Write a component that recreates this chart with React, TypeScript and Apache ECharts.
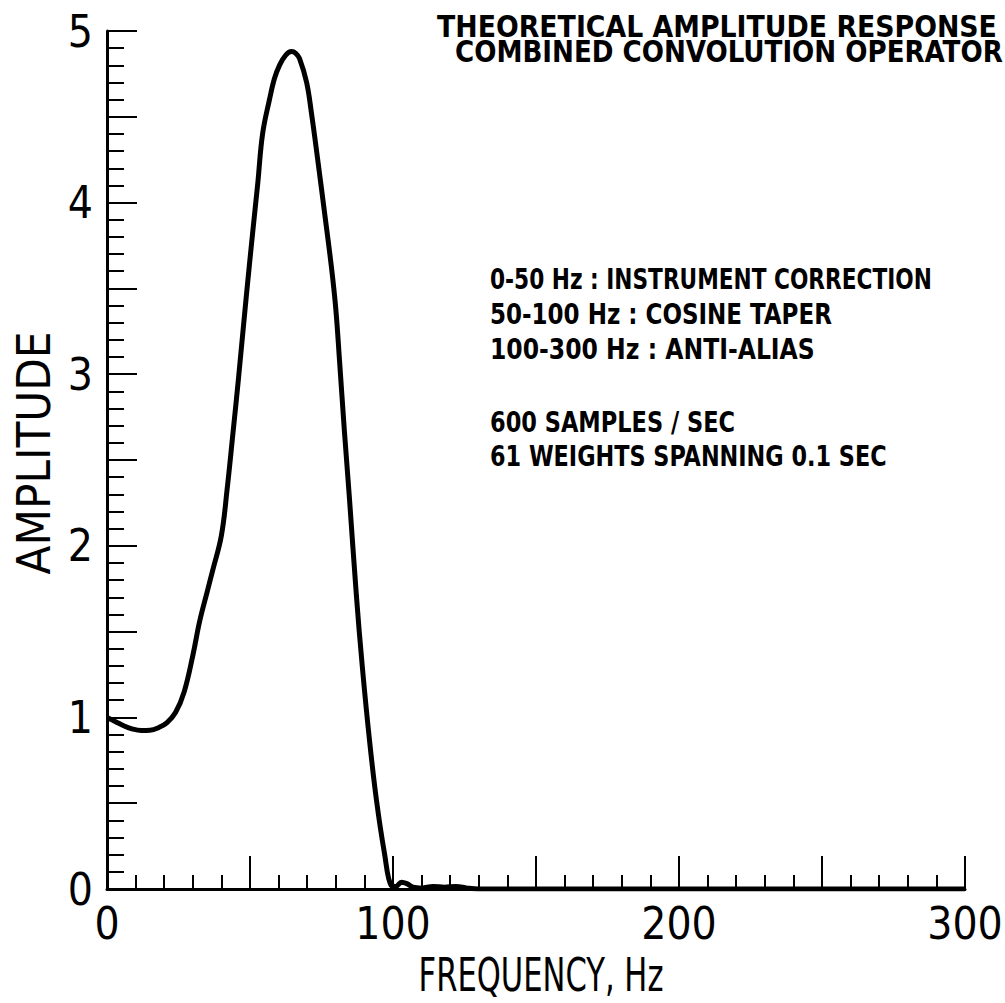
import React, { useEffect, useRef } from "react";
import * as echarts from "echarts";

const FONT = '"Liberation Sans Narrow", "DejaVu Sans Condensed", "Roboto Condensed", sans-serif';

// Frequency (Hz) and amplitude
const freq = [0, 3, 6, 9, 12, 15, 18, 21, 24, 27, 30, 32.4, 35, 37, 40, 42, 44, 46, 48.8, 50.9, 52.7, 54.4, 56.8, 58.5, 60.3, 62.5, 64.5, 66, 67.3, 69.8, 71.5, 73.6, 76, 78.5, 80, 81.3, 83, 84.8, 87.2, 89.3, 91.7, 94.2, 97, 99.4, 101, 103, 105, 107, 110, 114, 118, 122, 126, 130, 200, 300];
const amp = [1.0, 0.975, 0.95, 0.932, 0.924, 0.925, 0.94, 0.97, 1.03, 1.15, 1.36, 1.56, 1.73, 1.86, 2.06, 2.33, 2.65, 2.98, 3.47, 3.82, 4.11, 4.4, 4.6, 4.72, 4.8, 4.86, 4.88, 4.87, 4.84, 4.7, 4.52, 4.26, 3.95, 3.62, 3.38, 3.08, 2.67, 2.27, 1.71, 1.29, 0.88, 0.52, 0.21, 0.02, 0.015, 0.04, 0.03, 0.01, 0.005, 0.015, 0.01, 0.015, 0.005, 0, 0, 0];

const titleLines = ["THEORETICAL AMPLITUDE RESPONSE", "COMBINED CONVOLUTION OPERATOR"];
const noteLines = [
  "0-50 Hz : INSTRUMENT CORRECTION",
  "50-100 Hz : COSINE TAPER",
  "100-300 Hz : ANTI-ALIAS",
  "600 SAMPLES / SEC",
  "61 WEIGHTS SPANNING 0.1 SEC",
];
const xName = "FREQUENCY, Hz";
const yName = "AMPLITUDE";

function measure(text: string, size: number, weight = "normal") {
  const c = document.createElement("canvas").getContext("2d")!;
  c.font = `${weight} ${size}px ${FONT}`;
  return c.measureText(text).width;
}

export default function App() {
  const ref = useRef<HTMLDivElement>(null);
  useEffect(() => {
    if (!ref.current) return;
    const chart = echarts.init(ref.current, null, { renderer: "svg" });

    const textEl = (
      text: string,
      x: number,
      y: number,
      size: number,
      targetW: number,
      weight = "normal",
      align = "left",
      rotation = 0
    ) => {
      const w = measure(text, size, weight);
      return {
        type: "text",
        x,
        y,
        rotation,
        scaleX: targetW / w,
        style: { text, fontSize: size, fontFamily: FONT, fontWeight: weight, fill: "#000", textAlign: align, textVerticalAlign: "middle" },
      };
    };

    const graphics: any[] = [
      textEl(titleLines[0], 437, 26, 30, 560, "bold"),
      textEl(titleLines[1], 455, 52, 30, 548, "bold"),
      textEl(noteLines[0], 490, 279, 28, 442, "bold"),
      textEl(noteLines[1], 490, 314, 28, 342, "bold"),
      textEl(noteLines[2], 490, 349, 28, 325, "bold"),
      textEl(noteLines[3], 490, 422, 28, 245, "bold"),
      textEl(noteLines[4], 490, 456, 28, 397, "bold"),
      textEl(xName, 541, 975, 47, 245, "normal", "center"),
      textEl(yName, 33, 453, 47, 243, "normal", "center", Math.PI / 2),
    ];

    chart.setOption({
      animation: false,
      backgroundColor: "#fff",
      grid: { left: 107, top: 31, right: 40, bottom: 114, containLabel: false, outerBoundsMode: "none" },
      xAxis: {
        type: "value",
        min: 0,
        max: 300,
        interval: 50,
        axisLine: { show: true, lineStyle: { color: "#000", width: 3 } },
        axisTick: { show: true, inside: true, length: 33, lineStyle: { color: "#000", width: 2 } },
        minorTick: { show: true, splitNumber: 5, length: 14, lineStyle: { color: "#000", width: 2 } },
        splitLine: { show: false },
        minorSplitLine: { show: false },
        axisLabel: {
          formatter: (v: number) => (v % 100 === 0 ? String(v) : ""),
          fontSize: 44,
          fontFamily: FONT,
          color: "#000",
          margin: 12,
        },
      },
      yAxis: {
        type: "value",
        min: 0,
        max: 5,
        interval: 0.5,
        axisLine: { show: true, lineStyle: { color: "#000", width: 3 } },
        axisTick: { show: true, inside: true, length: 30, lineStyle: { color: "#000", width: 2 } },
        minorTick: { show: true, splitNumber: 5, length: 17, lineStyle: { color: "#000", width: 2 } },
        splitLine: { show: false },
        minorSplitLine: { show: false },
        axisLabel: {
          formatter: (v: number) => (Math.abs(v % 1) < 1e-9 ? String(v) : ""),
          fontSize: 44,
          fontFamily: FONT,
          color: "#000",
          margin: 14,
        },
      },
      series: [
        {
          type: "line",
          data: freq.map((f, i) => [f, amp[i]]),
          showSymbol: false,
          smooth: 0.4,
          lineStyle: { color: "#000", width: 5 },
          clip: true,
        },
      ],
      graphic: graphics,
    });
    return () => chart.dispose();
  }, []);
  return <div ref={ref} style={{ position: "fixed", left: 0, top: 0, width: 1005, height: 1003, background: "#fff" }} />;
}
